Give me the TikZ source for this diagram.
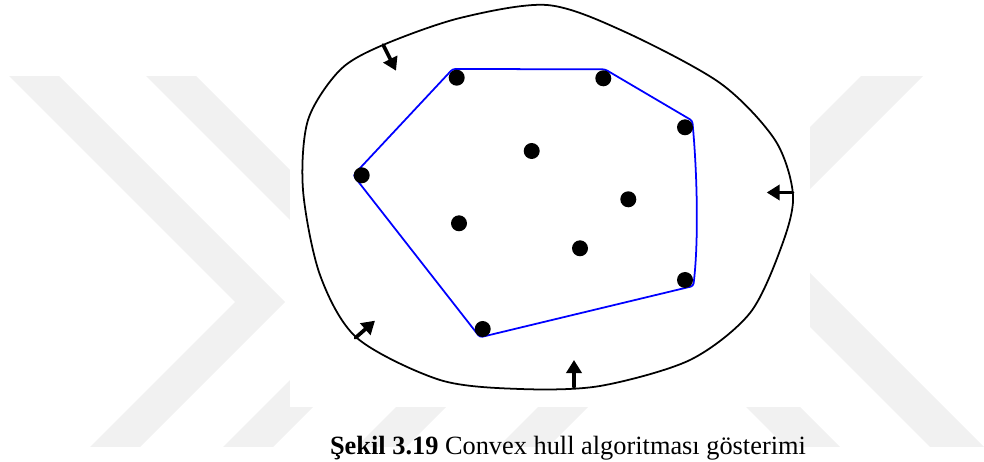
\documentclass[tikz,border=0pt]{standalone}
\usepackage{fontspec}
\setmainfont{Liberation Serif}
\usetikzlibrary{arrows.meta}
\definecolor{hullblue}{RGB}{0,0,255}
\definecolor{wmgray}{RGB}{241,241,241}
\tikzset{hull/.style={draw=hullblue,line width=1pt,rounded corners=1.5pt},
 vertex/.style={circle,fill=black,inner sep=0pt,minimum size=0.32cm},
 boundary/.style={draw=black,line width=1pt},
 push/.style={line width=2.1pt,-{Triangle[length=7.4pt,width=8.6pt]}},
 wmark/.style={fill=wmgray},
 figcaption/.style={anchor=base,font=\fontsize{15}{18}\selectfont},
 every picture/.style={line join=round,line cap=round}}

\begin{document}
\begin{tikzpicture}[x=0.02cm,y=-0.02cm]
\useasboundingbox (0,0) rectangle (984,462);
% watermark
\begin{scope}
\clip (0,77) rectangle (984,447);
\path[wmark] (-67,0) -- (-17,0) -- (285,302) -- (125,462) -- (75,462) -- (235,302) -- cycle;
\path[wmark] (70,0) -- (120,0) -- (420,300) -- (258,462) -- (208,462) -- (370,300) -- cycle;
\path[wmark] (215,0) -- (265,0) -- (559,294) -- (391,462) -- (341,462) -- (509,294) -- cycle;
\path[wmark] (345,0) -- (395,0) -- (695,300) -- (533,462) -- (483,462) -- (645,300) -- cycle;
\path[wmark] (793,0) -- (855,0) -- (624,231) -- (855,462) -- (801,462) -- (566,227) -- cycle;
\path[wmark] (937,0) -- (999,0) -- (768,231) -- (999,462) -- (945,462) -- (710,227) -- cycle;
\end{scope}
\path[fill=white] (290,0) rectangle (810,407);
% outer curve
\draw[boundary] plot[smooth cycle,tension=0.5] coordinates {(547,5) (623,31) (720,83)
 (775,140) (793,195) (782,245) (750,313) (690,360) (600,386) (520,389) (440,380)
 (357,338) (320,275) (303,190) (308,120) (340,70) (383,45) (460,18)};
% hull
\coordinate (h1) at (452.7,69.0);
\coordinate (h2) at (605.0,69.3);
\coordinate (h3) at (692.3,120.7);
\coordinate (h4) at (693.3,286.0);
\coordinate (h5) at (480.0,337.3);
\coordinate (h6) at (353.3,175.3);
\draw[hull] (h1) -- (h2) -- (h3) .. controls (697.0,170.0) and (699.0,240.0) .. (h4) -- (h5) -- (h6) -- cycle;
% points
\node[vertex] (p1) at (456.7,77.7) {};
\node[vertex] (p2) at (603.3,78.3) {};
\node[vertex] (p3) at (685.0,127.3) {};
\node[vertex] (p4) at (531.7,151.0) {};
\node[vertex] (p5) at (361.7,175.3) {};
\node[vertex] (p6) at (628.3,199.3) {};
\node[vertex] (p7) at (459.0,223.3) {};
\node[vertex] (p8) at (580.0,248.3) {};
\node[vertex] (p9) at (685.0,280.0) {};
\node[vertex] (p10) at (482.7,329.0) {};
% shrinking arrows
\coordinate (a1) at (383.3,45.0);
\coordinate (b1) at (396.0,70.7);
\coordinate (a2) at (792.5,192.5);
\coordinate (b2) at (766.7,192.5);
\coordinate (a3) at (574.0,386.5);
\coordinate (b3) at (574.0,360.0);
\coordinate (a4) at (355.5,337.8);
\coordinate (b4) at (375.0,320.7);
\draw[push] (a1) -- (b1);
\draw[push] (a2) -- (b2);
\draw[push] (a3) -- (b3);
\draw[push] (a4) -- (b4);
\node[figcaption] (cap) at (568,455) {\textbf{Şekil 3.19} Convex hull algoritması gösterimi};
\end{tikzpicture}
\end{document}
